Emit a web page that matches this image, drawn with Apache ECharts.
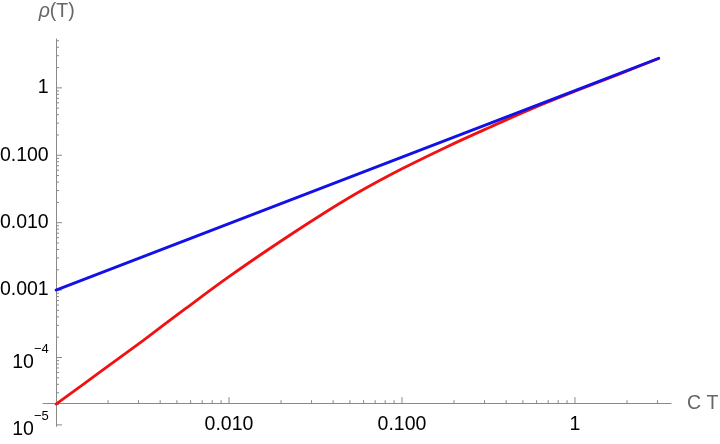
<!DOCTYPE html>
<html>
<head>
<meta charset="utf-8">
<script src="https://cdn.jsdelivr.net/npm/echarts@6/dist/echarts.min.js"></script>
<style>
html,body{margin:0;padding:0;background:#fff;}
#chart{width:720px;height:444px;}
</style>
</head>
<body>
<div id="chart"></div>
<script>
// ---- data ----
const redT   = [0.001, 0.0018, 0.0032, 0.0056, 0.01, 0.018, 0.032, 0.056, 0.1, 0.18, 0.32, 0.56, 1, 1.8, 3.05];
const redRho = [2.04e-5, 6.1e-5, 1.8e-4, 5.3e-4, 1.58e-3, 4.47e-3, 0.01175, 0.0282, 0.063, 0.132, 0.259, 0.488, 0.89, 1.6, 2.73];
const blueT   = [0.001, 0.01, 0.1, 1, 3.05];
const blueRho = [0.001, 0.0097, 0.094, 0.91, 2.75];

// ---- axis ticks ----
const yTickValues = [1e-5, 1e-4, 0.001, 0.01, 0.1, 1];
const yTickLabels = ['{b|10}{s|−5}', '{b|10}{s|−4}', '0.001', '0.010', '0.100', '1'];
const xTickValues = [0.01, 0.1, 1];
const xTickLabels = ['0.010', '0.100', '1'];
const minorMultipliers = [2, 3, 4, 5, 6, 7, 8, 9];
const yDecades = [1e-5, 1e-4, 0.001, 0.01, 0.1, 1];
const xDecades = [0.001, 0.01, 0.1, 1];

const xMin = 0.000841, xMax = 3.59;
const yMin = 9.5e-6, yMax = 5.31;
const xCross = 0.001, yCross = 2.1e-5;

function pick(values, labels, v) {
  const lv = Math.log10(v);
  for (let i = 0; i < values.length; i++) {
    if (Math.abs(Math.log10(values[i]) - lv) < 1e-6) return labels[i];
  }
  return '';
}

// tick marks: [x, y, direction(0=y axis,1=x axis), length]
const tickData = [];
yTickValues.forEach(v => tickData.push([xCross, v, 0, 6]));
yDecades.forEach(d => minorMultipliers.forEach(m => { const v = d * m; if (v <= yMax) tickData.push([xCross, v, 0, 3]); }));
xTickValues.forEach(v => tickData.push([v, yCross, 1, 6]));
xDecades.forEach(d => minorMultipliers.forEach(m => { const v = d * m; if (v <= xMax) tickData.push([v, yCross, 1, 3]); }));

const axisGray = '#8a8a8a';
const fontFam = '"Liberation Sans", Arial, sans-serif';
const fs = 19.5;

const chart = echarts.init(document.getElementById('chart'), null, {renderer: 'canvas'});
chart.setOption({
  animation: false,
  backgroundColor: '#ffffff',
  grid: {left: 43, right: 49, top: 39, bottom: 17.6, containLabel: false, outerBoundsMode: 'none'},
  xAxis: {
    type: 'log', min: xMin, max: xMax, offset: -23,
    axisLine: {onZero: false, lineStyle: {color: axisGray, width: 1}},
    axisTick: {show: false}, minorTick: {show: false},
    splitLine: {show: false},
    axisLabel: {
      margin: 11, color: '#000', fontSize: fs, fontFamily: fontFam,
      showMinLabel: false, showMaxLabel: false, hideOverlap: false,
      formatter: v => pick(xTickValues, xTickLabels, v)
    },
    name: 'C T', nameLocation: 'end', nameGap: 16,
    nameTextStyle: {color: '#666', fontSize: fs, fontFamily: fontFam, verticalAlign: 'middle'}
  },
  yAxis: {
    type: 'log', min: yMin, max: yMax, offset: -13.7,
    axisLine: {onZero: false, lineStyle: {color: axisGray, width: 1}},
    axisTick: {show: false}, minorTick: {show: false},
    splitLine: {show: false},
    axisLabel: {
      margin: 8, color: '#000', fontSize: fs, fontFamily: fontFam,
      showMinLabel: false, showMaxLabel: false, hideOverlap: false,
      formatter: v => pick(yTickValues, yTickLabels, v),
      rich: {
        b: {fontSize: fs, fontFamily: fontFam, color: '#000', lineHeight: 30, verticalAlign: 'bottom'},
        s: {fontSize: 13, fontFamily: fontFam, color: '#000', lineHeight: 14, verticalAlign: 'top'}
      }
    },
    name: '{i|ρ}(T)', nameLocation: 'end', nameGap: 17,
    nameTextStyle: {
      color: '#666', fontSize: fs, fontFamily: fontFam, align: 'center',
      rich: {i: {fontStyle: 'italic', fontSize: fs, fontFamily: fontFam, color: '#666'}}
    }
  },
  series: [
    {
      type: 'custom', coordinateSystem: 'cartesian2d', silent: true, clip: false,
      data: tickData, z: 1,
      renderItem: function (params, api) {
        const p = api.coord([api.value(0), api.value(1)]);
        const dir = api.value(2), len = api.value(3);
        const end = dir === 0 ? [p[0] + len, p[1]] : [p[0], p[1] - len];
        return {type: 'line', shape: {x1: p[0], y1: p[1], x2: end[0], y2: end[1]},
                style: {stroke: axisGray, lineWidth: 1}};
      }
    },
    {
      type: 'line', data: redT.map((t, i) => [t, redRho[i]]),
      showSymbol: false, smooth: 0.35, z: 3,
      lineStyle: {color: '#f01212', width: 2.8, cap: 'round'}
    },
    {
      type: 'line', data: blueT.map((t, i) => [t, blueRho[i]]),
      showSymbol: false, z: 4,
      lineStyle: {color: '#1212e8', width: 2.8, cap: 'round'}
    }
  ]
});
</script>
</body>
</html>
